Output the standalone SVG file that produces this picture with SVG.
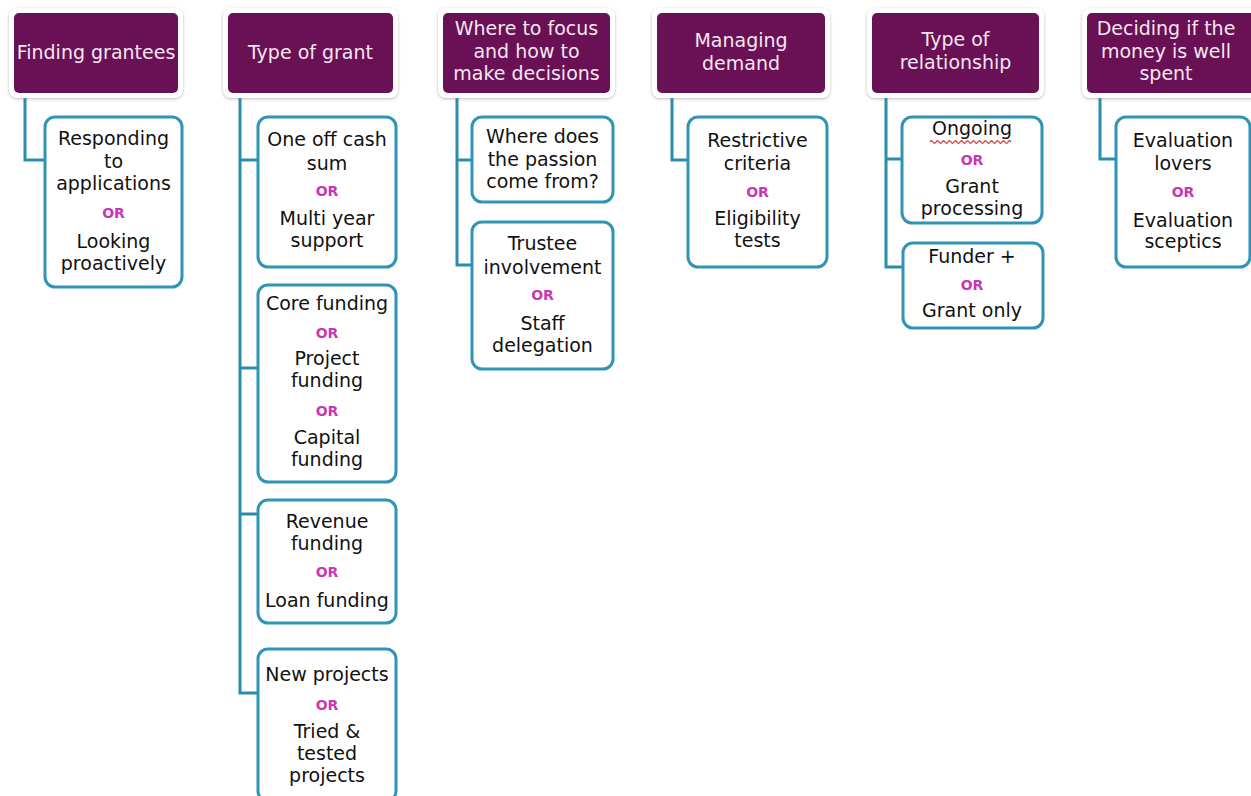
<svg xmlns="http://www.w3.org/2000/svg" width="1251" height="796" viewBox="0 0 1251 796">
<defs>
<filter id="sh" x="-10%" y="-10%" width="120%" height="130%">
<feDropShadow dx="0" dy="1" stdDeviation="1.6" flood-color="#808080" flood-opacity="0.55"/>
</filter>
</defs>
<style>
.hw{fill:#ffffff;filter:url(#sh);}
.hp{fill:#6a1155;}
.ht{font-family:"DejaVu Sans",Verdana,sans-serif;font-size:19px;fill:#f3e6f1;text-anchor:middle;}
.cb{fill:#ffffff;stroke:#2f94b6;stroke-width:3;}
.ct{font-family:"DejaVu Sans",Verdana,sans-serif;font-size:19px;fill:#111111;text-anchor:middle;}
.or{font-family:"DejaVu Sans",Verdana,sans-serif;font-size:14px;font-weight:bold;fill:#c837b3;text-anchor:middle;}
.cn{fill:none;stroke:#2a8cae;stroke-width:3;}
</style>
<rect width="1251" height="796" fill="#ffffff"/>

<g id="connectors">
<path class="cn" d="M25,93 V160 H45"/>
<path class="cn" d="M240,93 V693 H258 M240,160 H258 M240,368 H258 M240,514 H258"/>
<path class="cn" d="M457,93 V265 H472 M457,160 H472"/>
<path class="cn" d="M672,93 V160 H688"/>
<path class="cn" d="M886,93 V267 H903 M886,159 H902"/>
<path class="cn" d="M1100,93 V159 H1116"/>
</g>

<g id="h1">
<rect class="hw" x="9" y="8" width="174" height="90" rx="8"/>
<rect class="hp" x="14" y="13" width="164" height="80" rx="5"/>
<text class="ht" x="96" y="59">Finding grantees</text>
</g>
<g id="h2">
<rect class="hw" x="223" y="8" width="175" height="90" rx="8"/>
<rect class="hp" x="228" y="13" width="165" height="80" rx="5"/>
<text class="ht" x="310.5" y="59">Type of grant</text>
</g>
<g id="h3">
<rect class="hw" x="438" y="8" width="177" height="90" rx="8"/>
<rect class="hp" x="443" y="13" width="167" height="80" rx="5"/>
<text class="ht" x="526.5" y="35">Where to focus</text>
<text class="ht" x="526.5" y="58">and how to</text>
<text class="ht" x="526.5" y="80">make decisions</text>
</g>
<g id="h4">
<rect class="hw" x="652" y="8" width="178" height="90" rx="8"/>
<rect class="hp" x="657" y="13" width="168" height="80" rx="5"/>
<text class="ht" x="741" y="47">Managing</text>
<text class="ht" x="741" y="70">demand</text>
</g>
<g id="h5">
<rect class="hw" x="867" y="8" width="177" height="90" rx="8"/>
<rect class="hp" x="872" y="13" width="167" height="80" rx="5"/>
<text class="ht" x="955.5" y="46">Type of</text>
<text class="ht" x="955.5" y="69">relationship</text>
</g>
<g id="h6">
<rect class="hw" x="1082" y="8" width="180" height="90" rx="8"/>
<rect class="hp" x="1087" y="13" width="170" height="80" rx="5"/>
<text class="ht" x="1166" y="35">Deciding if the</text>
<text class="ht" x="1166" y="58">money is well</text>
<text class="ht" x="1166" y="80">spent</text>
</g>

<g id="c1">
<rect class="cb" x="45" y="117" width="137" height="170" rx="10"/>
<text class="ct" x="113.5" y="145">Responding</text>
<text class="ct" x="113.5" y="168">to</text>
<text class="ct" x="113.5" y="190">applications</text>
<text class="or" x="113.5" y="218">OR</text>
<text class="ct" x="113.5" y="248">Looking</text>
<text class="ct" x="113.5" y="270">proactively</text>
</g>

<g id="c2a">
<rect class="cb" x="258" y="117" width="138" height="150" rx="10"/>
<text class="ct" x="327" y="146">One off cash</text>
<text class="ct" x="327" y="170">sum</text>
<text class="or" x="327" y="196">OR</text>
<text class="ct" x="327" y="225">Multi year</text>
<text class="ct" x="327" y="247">support</text>
</g>
<g id="c2b">
<rect class="cb" x="258" y="285" width="138" height="197" rx="10"/>
<text class="ct" x="327" y="310">Core funding</text>
<text class="or" x="327" y="338">OR</text>
<text class="ct" x="327" y="365">Project</text>
<text class="ct" x="327" y="387">funding</text>
<text class="or" x="327" y="416">OR</text>
<text class="ct" x="327" y="444">Capital</text>
<text class="ct" x="327" y="466">funding</text>
</g>
<g id="c2c">
<rect class="cb" x="258" y="500" width="138" height="123" rx="10"/>
<text class="ct" x="327" y="528">Revenue</text>
<text class="ct" x="327" y="550">funding</text>
<text class="or" x="327" y="577">OR</text>
<text class="ct" x="327" y="607">Loan funding</text>
</g>
<g id="c2d">
<rect class="cb" x="258" y="649" width="138" height="152" rx="10"/>
<text class="ct" x="327" y="681">New projects</text>
<text class="or" x="327" y="710">OR</text>
<text class="ct" x="327" y="738">Tried &amp;</text>
<text class="ct" x="327" y="760">tested</text>
<text class="ct" x="327" y="782">projects</text>
</g>

<g id="c3a">
<rect class="cb" x="472" y="117" width="141" height="85" rx="10"/>
<text class="ct" x="542.5" y="143">Where does</text>
<text class="ct" x="542.5" y="166">the passion</text>
<text class="ct" x="542.5" y="188">come from?</text>
</g>
<g id="c3b">
<rect class="cb" x="472" y="222" width="141" height="147" rx="10"/>
<text class="ct" x="542.5" y="250">Trustee</text>
<text class="ct" x="542.5" y="274">involvement</text>
<text class="or" x="542.5" y="300">OR</text>
<text class="ct" x="542.5" y="330">Staff</text>
<text class="ct" x="542.5" y="352">delegation</text>
</g>

<g id="c4">
<rect class="cb" x="688" y="117" width="139" height="150" rx="10"/>
<text class="ct" x="757.5" y="147">Restrictive</text>
<text class="ct" x="757.5" y="170">criteria</text>
<text class="or" x="757.5" y="197">OR</text>
<text class="ct" x="757.5" y="225">Eligibility</text>
<text class="ct" x="757.5" y="247">tests</text>
</g>

<g id="c5a">
<rect class="cb" x="902" y="117" width="140" height="106" rx="10"/>
<text class="ct" x="972" y="135">Ongoing</text>
<path d="M930,142 q1.5,-2.5 3,0 t3,0 t3,0 t3,0 t3,0 t3,0 t3,0 t3,0 t3,0 t3,0 t3,0 t3,0 t3,0 t3,0 t3,0 t3,0 t3,0 t3,0 t3,0 t3,0 t3,0 t3,0 t3,0 t3,0 t3,0 t3,0 t3,0" fill="none" stroke="#e03a3a" stroke-width="1.3"/>
<text class="or" x="972" y="165">OR</text>
<text class="ct" x="972" y="193">Grant</text>
<text class="ct" x="972" y="215">processing</text>
</g>
<g id="c5b">
<rect class="cb" x="903" y="243" width="140" height="85" rx="10"/>
<text class="ct" x="972" y="263">Funder +</text>
<text class="or" x="972" y="290">OR</text>
<text class="ct" x="972" y="317">Grant only</text>
</g>

<g id="c6">
<rect class="cb" x="1116" y="117" width="134" height="150" rx="10"/>
<text class="ct" x="1183" y="147">Evaluation</text>
<text class="ct" x="1183" y="170">lovers</text>
<text class="or" x="1183" y="197">OR</text>
<text class="ct" x="1183" y="227">Evaluation</text>
<text class="ct" x="1183" y="248">sceptics</text>
</g>
</svg>
